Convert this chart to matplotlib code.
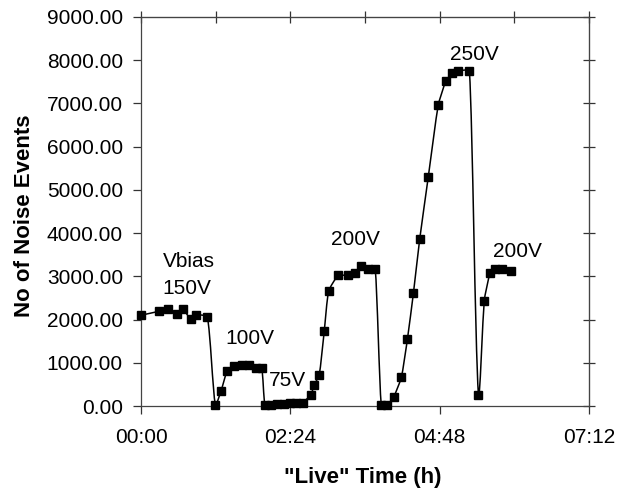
import matplotlib
matplotlib.use('Agg')
import matplotlib.pyplot as plt
import numpy as np
from matplotlib.path import Path
from matplotlib.patches import PathPatch
from matplotlib.ticker import FuncFormatter

plt.rcParams['font.family'] = ['Liberation Sans', 'DejaVu Sans']

# "Live" time in hours
time_h = [0.000, 0.286, 0.441, 0.577, 0.667, 0.803, 0.884, 1.066,
          1.195, 1.288, 1.384, 1.491, 1.627, 1.733, 1.842, 1.939,
          1.992, 2.084, 2.189, 2.294, 2.391, 2.496, 2.596,
          2.730, 2.783, 2.864, 2.945, 3.016, 3.171, 3.333, 3.441, 3.538, 3.656, 3.764,
          3.861, 3.958, 4.060, 4.184, 4.281, 4.378, 4.480, 4.616, 4.777, 4.900,
          5.003, 5.100, 5.278,
          5.423, 5.517, 5.611, 5.691, 5.795, 5.950]
# Number of noise events
events = [2100, 2190, 2245, 2140, 2245, 2010, 2110, 2060,
          25, 355, 808, 930, 960, 945, 890, 885,
          25, 25, 35, 55, 60, 60, 80,
          255, 485, 715, 1730, 2660, 3020, 3020, 3075, 3230, 3175, 3175,
          25, 25, 205, 660, 1540, 2610, 3870, 5290, 6960, 7520,
          7700, 7755, 7755,
          250, 2440, 3080, 3180, 3180, 3115]

ann_text = ["Vbias", "150V", "100V", "75V", "200V", "250V", "200V"]
ann_time = [0.35, 0.35, 1.362, 2.057, 3.053, 4.965, 5.650]
ann_value = [3353, 2723, 1562, 600, 3847, 8140, 3584]

x_ticks = [0, 2.4, 4.8, 7.2]
x_minor_top = [0, 1.2, 2.4, 3.6, 4.8, 6.0, 7.2]
y_ticks = list(range(0, 9001, 1000))

fig = plt.figure(figsize=(6.2, 4.91), dpi=100)
ax = fig.add_axes([141/620, 1-406/491, 448/620, 389/491])
ax.set_xlim(0, 7.2)
ax.set_ylim(0, 9000)

# smooth connecting line (Excel-like), control points computed in screen-like scale
sx, sy = 448/7.2, 389/9000
pts = np.column_stack([np.asarray(time_h)*sx, np.asarray(events)*sy])
n = len(pts)
k = 0.5 / 3.0
verts = [pts[0]]
codes = [Path.MOVETO]
def tangent(i):
    a = pts[i-1] if i > 0 else pts[i]
    b = pts[i+1] if i < n-1 else pts[i]
    d = b - a
    L = np.hypot(*d)
    return d / L if L > 0 else d
for i in range(n-1):
    p1, p2 = pts[i], pts[i+1]
    L = np.hypot(*(p2 - p1))
    c1 = p1 + tangent(i) * L * k
    c2 = p2 - tangent(i+1) * L * k
    verts += [c1, c2, p2]
    codes += [Path.CURVE4]*3
verts = np.array(verts) / np.array([sx, sy])
patch = PathPatch(Path(verts, codes), facecolor='none', edgecolor='black',
                  lw=1.1, transform=ax.transData, clip_on=False, zorder=2)
ax.add_patch(patch)
ax.plot(time_h, events, linestyle='none', marker='s', markersize=6,
        color='black', zorder=3, clip_on=False)

for t, xx, yy in zip(ann_text, ann_time, ann_value):
    ax.text(xx, yy, t, fontsize=15, ha='left', va='center')

ax.set_xticks(x_ticks)
ax.set_yticks(y_ticks)

def hhmm(v, pos):
    m = int(round(v*60))
    return f"{m//60:02d}:{m%60:02d}"

ax.xaxis.set_major_formatter(FuncFormatter(hhmm))
ax.yaxis.set_major_formatter(FuncFormatter(lambda v, p: f"{v:.2f}"))
ax.tick_params(axis='both', labelsize=15, direction='out', length=6,
               width=0.9, color='#333333')
ax.tick_params(axis='y', pad=7)
ax.tick_params(axis='x', pad=10)

for s in ax.spines.values():
    s.set_color('#444444')
    s.set_linewidth(0.9)

top = ax.secondary_xaxis('top')
top.set_xticks(x_minor_top)
top.tick_params(direction='inout', length=8, width=0.9, color='#333333',
                labeltop=False)
top.spines['top'].set_color('#444444')
right = ax.secondary_yaxis('right')
right.set_yticks(y_ticks)
right.tick_params(direction='inout', length=8, width=0.9, color='#333333',
                  labelright=False)
right.spines['right'].set_color('#444444')

ax.set_ylabel("No of Noise Events", fontsize=16, fontweight='bold', va='center')
ax.yaxis.set_label_coords((25-141)/448, (406-216)/389)
ax.set_xlabel('"Live" Time (h)', fontsize=16, fontweight='bold', va='center')
ax.xaxis.set_label_coords((363-141)/448, -(478-406)/389)

fig.savefig('out.png', dpi=100)
